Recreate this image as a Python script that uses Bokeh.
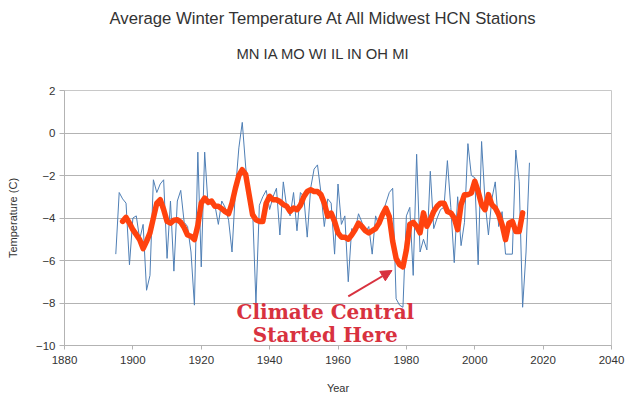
from bokeh.plotting import figure
from bokeh.models import Label, Arrow, NormalHead, FixedTicker, Title
from bokeh.embed import file_html
from bokeh.resources import INLINE

# ---- data ----
blue_start = 1895
blue_values = [
    -5.7, -2.8, -3.1, -3.3, -6.2,            # 1895-1899
    -4.0, -3.9, -5.0, -4.3, -7.4, -6.7, -2.2, -2.8, -2.4, -2.2,   # 1900s
    -5.9, -3.2, -6.5, -3.2, -2.7, -4.2, -4.4, -5.6, -8.1, -0.9,   # 1910s
    -6.3, -0.9, -3.4, -3.2, -3.4, -4.3, -3.2, -3.5, -4.1, -5.6,   # 1920s
    -2.7, -0.7, 0.5, -1.6, -3.0, -3.5, -8.0, -3.4, -3.0, -2.7,    # 1930s
    -3.6, -3.0, -2.6, -4.8, -2.3, -3.5, -3.9, -2.8, -4.6, -2.8,   # 1940s
    -3.0, -4.9, -2.6, -1.7, -1.5, -2.8, -4.4, -3.1, -3.3, -5.7,   # 1950s
    -2.4, -4.3, -3.9, -7.0, -4.5, -4.6, -3.8, -4.2, -4.7, -4.4,   # 1960s
    -5.7, -3.9, -4.4, -3.8, -3.3, -2.8, -2.6, -7.8, -8.1, -8.2,   # 1970s
    -3.9, -3.5, -6.7, -1.0, -5.6, -5.0, -5.5, -1.8, -4.5, -4.0,   # 1980s
    -3.6, -3.5, -1.3, -3.5, -6.1, -3.0, -5.3, -4.2, -0.5, -2.0,   # 1990s
    -2.1, -6.2, -0.4, -3.2, -4.8, -3.1, -2.3, -4.4, -3.7, -5.7,   # 2000s
    -5.7, -5.7, -0.8, -2.3, -8.2, -5.6, -1.4,                     # 2010-2016
]

red_start = 1897
red_values = [
    -4.16, -3.97, -4.24,                                                   # 1897-1899
    -4.55, -4.78, -5.02, -5.44, -5.10, -4.70, -4.00, -3.30, -3.14, -3.60,  # 1900s
    -4.16, -4.24, -4.10, -4.08, -4.20, -4.45, -4.80, -4.86, -5.02, -4.35,  # 1910s
    -3.30, -3.06, -3.26, -3.20, -3.45, -3.45, -3.56, -3.70, -3.80, -3.30,  # 1920s
    -2.60, -2.00, -1.73, -1.95, -2.90, -3.84, -4.08, -4.16, -4.16, -3.30,  # 1930s
    -2.98, -3.14, -3.14, -3.22, -3.37, -3.45, -3.69, -3.53, -3.61, -3.40,  # 1940s
    -3.00, -2.75, -2.67, -2.75, -2.75, -2.90, -3.30, -3.92, -3.77, -4.16,  # 1950s
    -4.70, -4.90, -4.90, -5.00, -4.80, -4.55, -4.24, -4.40, -4.60, -4.70,  # 1960s
    -4.60, -4.50, -4.24, -3.85, -3.54, -3.93, -5.10, -5.90, -6.20, -6.30,  # 1970s
    -5.50, -4.30, -4.20, -4.40, -4.70, -3.76, -4.39, -4.08, -3.69, -3.45,  # 1980s
    -3.30, -3.30, -3.69, -3.76, -4.00, -4.55, -3.37, -2.90, -2.90, -2.82,  # 1990s
    -2.27, -2.75, -3.37, -3.61, -2.90, -3.37, -3.53, -3.84, -4.31, -5.02,  # 2000s
    -4.24, -4.16, -4.63, -4.63, -3.76,                                     # 2010-2014
]

blue_years = [blue_start + i for i in range(len(blue_values))]
red_years = [red_start + i for i in range(len(red_values))]

x_ticks = [1880, 1900, 1920, 1940, 1960, 1980, 2000, 2020, 2040]
y_ticks = [2, 0, -2, -4, -6, -8, -10]

title_text = "Average Winter Temperature At All Midwest HCN Stations"
subtitle_text = "MN IA MO WI IL IN OH MI"
note_line1 = "Climate Central"
note_line2 = "Started Here"

TEXT = "#333333"
GRID = "#b3b3b3"
BLUE = "#4f7fb5"
RED = "#ff420e"
NOTE = "#d8323f"
FONT = "Liberation Sans"

p = figure(width=639, height=399,
           x_range=(1880, 2040), y_range=(-10, 2),
           output_backend="svg", toolbar_location=None,
           min_border_left=64, min_border_right=28,
           min_border_top=90, min_border_bottom=54)

p.background_fill_color = "white"
p.border_fill_color = "white"
p.outline_line_color = "#c8c8c8"

p.xgrid.grid_line_color = None
p.ygrid.grid_line_color = GRID
p.ygrid.grid_line_width = 1

p.xaxis.ticker = FixedTicker(ticks=x_ticks)
p.yaxis.ticker = FixedTicker(ticks=y_ticks)

for ax in (p.xaxis[0], p.yaxis[0]):
    ax.axis_line_color = GRID
    ax.major_tick_line_color = GRID
    ax.minor_tick_line_color = None
    ax.major_tick_in = 0
    ax.major_label_text_font = FONT
    ax.major_label_text_font_size = "11.5px"
    ax.major_label_text_color = TEXT
    ax.axis_label_text_font = FONT
    ax.axis_label_text_font_size = "11px"
    ax.axis_label_text_font_style = "normal"
    ax.axis_label_text_color = TEXT

p.xaxis.axis_label = "Year"
p.xaxis.major_tick_out = 4
p.xaxis.major_label_standoff = 6
p.xaxis.axis_label_standoff = 15

p.yaxis.axis_label = "Temperature (C)"
p.yaxis.major_tick_out = 5
p.yaxis.major_label_standoff = 4
p.yaxis.axis_label_standoff = 14

p.line(blue_years, blue_values, line_color=BLUE, line_width=1)
p.line(red_years, red_values, line_color=RED, line_width=5.5,
       line_join="round", line_cap="round")

# titles stacked outward from the frame: spacer, subtitle, title
p.add_layout(Title(text=" ", text_font_size="1px", standoff=16,
                   vertical_align="middle"), "above")
p.add_layout(Title(text=subtitle_text, align="left", offset=172,
                   standoff=18, vertical_align="middle",
                   text_font=FONT, text_font_size="14.8px",
                   text_font_style="normal", text_color=TEXT), "above")
p.add_layout(Title(text=title_text, align="left", offset=45,
                   standoff=13, vertical_align="middle",
                   text_font=FONT, text_font_size="16.7px",
                   text_font_style="normal", text_color=TEXT), "above")

# annotation
p.add_layout(Arrow(end=NormalHead(size=11, fill_color=NOTE, line_color=NOTE),
                   x_start=1963.0, y_start=-7.69, x_end=1975.8, y_end=-6.47,
                   line_color=NOTE, line_width=2))
p.add_layout(Label(x=1956.3, y=-8.4, text=note_line1, text_align="center",
                   text_baseline="middle", text_font="DejaVu Serif",
                   text_font_style="bold", text_font_size="20px",
                   text_color=NOTE))
p.add_layout(Label(x=1956.3, y=-9.5, text=note_line2, text_align="center",
                   text_baseline="middle", text_font="DejaVu Serif",
                   text_font_style="bold", text_font_size="20px",
                   text_color=NOTE))

open("out.html", "w").write(file_html(p, INLINE))
